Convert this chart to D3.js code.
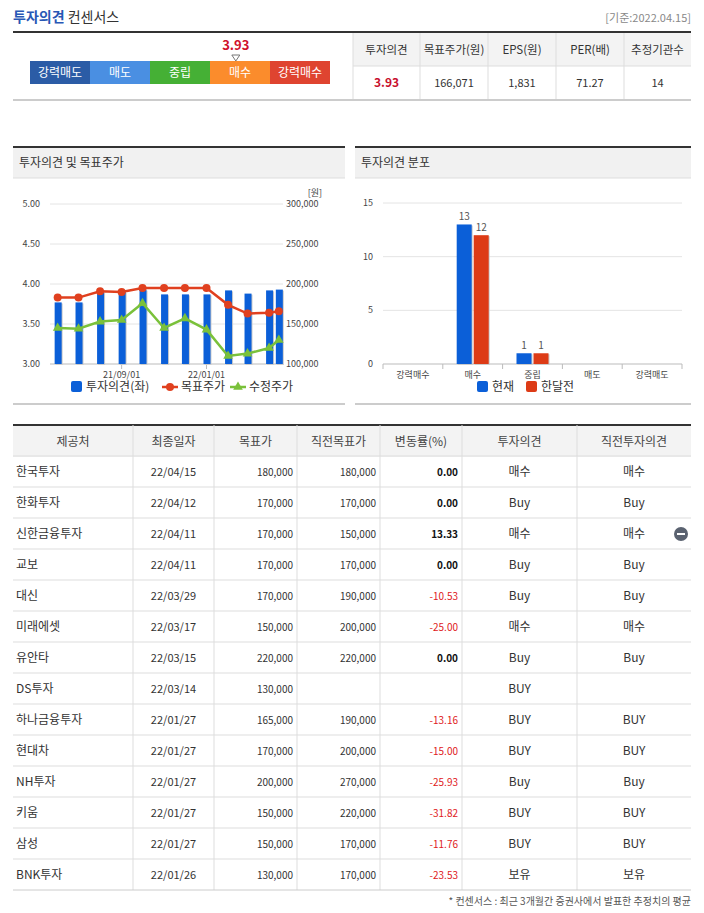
<!DOCTYPE html>
<html><head><meta charset="utf-8">
<script src="https://cdn.jsdelivr.net/npm/d3@7"></script>
<style>body{margin:0;background:#fff;font-family:"Noto Sans CJK KR","Noto Sans",sans-serif}</style>
</head><body><svg id="c" width="704" height="913"></svg>
<script>
// top consensus
var scaleNames = ["강력매도", "매도", "중립", "매수", "강력매수"];
var scaleColors = ["#2b5ca6", "#4a8fe2", "#45b035", "#fb8c2c", "#df4430"];
var consensusScore = 3.93;
var summaryHeads = ["투자의견", "목표주가(원)", "EPS(원)", "PER(배)", "추정기관수"];
var summaryVals = ["3.93", "166,071", "1,831", "71.27", "14"];

// left chart
var trendDates = ["2021-06-01","2021-07-01","2021-08-01","2021-09-01","2021-10-01","2021-11-01","2021-12-01","2022-01-01","2022-02-01","2022-03-01","2022-04-01","2022-04-15"];
var opinion = [3.77, 3.77, 3.90, 3.90, 3.93, 3.87, 3.87, 3.87, 3.92, 3.88, 3.92, 3.93];
var targetPrice = [183000, 183000, 191000, 190000, 195000, 195000, 195000, 195000, 174000, 163000, 164000, 166000];
var adjPrice = [145000, 144000, 153000, 155000, 176000, 145000, 157000, 143000, 110000, 113000, 120000, 130000];
var leftTicks = [3.0, 3.5, 4.0, 4.5, 5.0];
var rightTicks = [100000, 150000, 200000, 250000, 300000];

// right chart
var distCats = ["강력매수", "매수", "중립", "매도", "강력매도"];
var distNow = [0, 13, 1, 0, 0];
var distPrev = [0, 12, 1, 0, 0];

// table
var tableHeads = ["제공처", "최종일자", "목표가", "직전목표가", "변동률(%)", "투자의견", "직전투자의견"];
var brokers = ["한국투자","한화투자","신한금융투자","교보","대신","미래에셋","유안타","DS투자","하나금융투자","현대차","NH투자","키움","삼성","BNK투자"];
var dates = ["22/04/15","22/04/12","22/04/11","22/04/11","22/03/29","22/03/17","22/03/15","22/03/14","22/01/27","22/01/27","22/01/27","22/01/27","22/01/27","22/01/26"];
var targets = ["180,000","170,000","170,000","170,000","170,000","150,000","220,000","130,000","165,000","170,000","200,000","150,000","150,000","130,000"];
var prevTargets = ["180,000","170,000","150,000","170,000","190,000","200,000","220,000","","190,000","200,000","270,000","220,000","170,000","170,000"];
var changes = ["0.00","0.00","13.33","0.00","-10.53","-25.00","0.00","","-13.16","-15.00","-25.93","-31.82","-11.76","-23.53"];
var opinions = ["매수","Buy","매수","Buy","Buy","매수","Buy","BUY","BUY","BUY","Buy","BUY","BUY","보유"];
var prevOpinions = ["매수","Buy","매수","Buy","Buy","매수","Buy","","BUY","BUY","Buy","BUY","BUY","보유"];

var svg = d3.select("#c");
function txt(x, y, s, o) {
  o = o || {};
  return svg.append("text").attr("x", x).attr("y", y).text(s)
    .attr("font-size", o.size || 12).attr("fill", o.fill || "#333")
    .attr("text-anchor", o.anchor || "start").attr("font-weight", o.weight || "normal");
}

// header
var t = svg.append("text").attr("x", 13).attr("y", 22).attr("font-size", 14).attr("font-weight", "bold");
t.append("tspan").attr("fill", "#2857b5").text("투자의견 ");
t.append("tspan").attr("fill", "#333").attr("font-weight", "normal").text("컨센서스");
txt(691, 22, "[기준:2022.04.15]", {size: 11, fill: "#888", anchor: "end"});
svg.append("rect").attr("x", 13).attr("y", 31).attr("width", 678).attr("height", 2).attr("fill", "#333");
svg.append("rect").attr("x", 13).attr("y", 99).attr("width", 678).attr("height", 2).attr("fill", "#ccc");

var sx = d3.scaleBand().domain(scaleNames).range([30, 330]);
scaleNames.forEach(function (n, i) {
  svg.append("rect").attr("x", sx(n)).attr("y", 61).attr("width", sx.bandwidth()).attr("height", 23).attr("fill", scaleColors[i]);
  txt(sx(n) + sx.bandwidth() / 2, 77, n, {fill: "#fff", anchor: "middle"});
});
var mx = d3.scaleLinear().domain([1, 5]).range([30 + sx.bandwidth() / 2, 330 - sx.bandwidth() / 2]);
txt(mx(consensusScore), 50, consensusScore.toFixed(2), {fill: "#d0112b", weight: "bold", anchor: "middle", size: 13});
svg.append("path").attr("d", "M" + (mx(consensusScore) - 4) + ",55 l8,0 l-4,6 z").attr("fill", "#fff").attr("stroke", "#777");

var cx = [353, 420, 488, 556, 624, 691];
svg.append("rect").attr("x", 353).attr("y", 33).attr("width", 338).attr("height", 33).attr("fill", "#f3f3f3");
svg.append("line").attr("x1", 353).attr("x2", 691).attr("y1", 66).attr("y2", 66).attr("stroke", "#ddd");
summaryHeads.forEach(function (h, i) {
  svg.append("line").attr("x1", cx[i]).attr("x2", cx[i]).attr("y1", 33).attr("y2", 99).attr("stroke", "#ddd");
  txt((cx[i] + cx[i + 1]) / 2, 54, h, {anchor: "middle", size: 11.5});
  txt((cx[i] + cx[i + 1]) / 2, 87, summaryVals[i], i == 0 ? {anchor: "middle", fill: "#c8102e", weight: "bold"} : {anchor: "middle", size: 11});
});

// panels
function panel(x, w, title) {
  svg.append("rect").attr("x", x).attr("y", 147).attr("width", w).attr("height", 31).attr("fill", "#f1f1f1");
  svg.append("rect").attr("x", x).attr("y", 146).attr("width", w).attr("height", 2).attr("fill", "#333");
  svg.append("line").attr("x1", x).attr("x2", x + w).attr("y1", 178).attr("y2", 178).attr("stroke", "#ddd");
  svg.append("rect").attr("x", x).attr("y", 403).attr("width", w).attr("height", 2).attr("fill", "#ccc");
  txt(x + 6, 167, title, {size: 12});
}
panel(13, 332, "투자의견 및 목표주가");
panel(355, 336, "투자의견 분포");

// left chart
var parse = d3.timeParse("%Y-%m-%d");
var td = trendDates.map(parse);
var x = d3.scaleTime().domain([parse("2021-05-21"), parse("2022-04-21")]).range([50, 283]);
var yl = d3.scaleLinear().domain([3, 5]).range([364, 204]);
var yr = d3.scaleLinear().domain([100000, 300000]).range([364, 204]);
leftTicks.forEach(function (v) {
  svg.append("line").attr("x1", 50).attr("x2", 283).attr("y1", yl(v)).attr("y2", yl(v)).attr("stroke", v == 3 ? "#bbb" : "#e4e4e4");
  txt(40, yl(v) + 3, v.toFixed(2), {size: 9, anchor: "end", fill: "#444"});
});
rightTicks.forEach(function (v) { txt(286, yr(v) + 3, d3.format(",")(v), {size: 9, fill: "#444"}); });
txt(322, 196, "[원]", {size: 9, anchor: "end", fill: "#444"});
[parse("2021-09-01"), parse("2022-01-01")].forEach(function (d) {
  svg.append("line").attr("x1", x(d)).attr("x2", x(d)).attr("y1", 364).attr("y2", 369).attr("stroke", "#bbb");
  txt(x(d), 378, d3.timeFormat("%y/%m/%d")(d), {size: 9, anchor: "middle", fill: "#444"});
});
td.forEach(function (d, i) {
  svg.append("rect").attr("x", x(d) - 2).attr("y", yl(opinion[i]) + 1).attr("width", 7).attr("height", 364 - yl(opinion[i])).attr("fill", "#ccc");
  svg.append("rect").attr("x", x(d) - 3).attr("y", yl(opinion[i])).attr("width", 7).attr("height", 364 - yl(opinion[i])).attr("fill", "#0b5fd8");
});
var lr = d3.line().x(function (d, i) { return x(td[i]); }).y(function (d) { return yr(d); });
svg.append("path").attr("d", lr(adjPrice)).attr("fill", "none").attr("stroke", "#7ac13a").attr("stroke-width", 2.5);
var star = d3.symbol().type(d3.symbolTriangle).size(40);
adjPrice.forEach(function (v, i) {
  svg.append("path").attr("d", star()).attr("transform", "translate(" + x(td[i]) + "," + yr(v) + ")").attr("fill", "#7ac13a");
});
svg.append("path").attr("d", lr(targetPrice)).attr("fill", "none").attr("stroke", "#e0401f").attr("stroke-width", 2.5);
targetPrice.forEach(function (v, i) {
  svg.append("circle").attr("cx", x(td[i])).attr("cy", yr(v)).attr("r", 4).attr("fill", "#e0401f");
});
// left legend
svg.append("rect").attr("x", 71).attr("y", 381).attr("width", 11).attr("height", 11).attr("rx", 2).attr("fill", "#0b5fd8");
txt(86, 391, "투자의견(좌)", {size: 12});
svg.append("line").attr("x1", 162).attr("x2", 178).attr("y1", 387).attr("y2", 387).attr("stroke", "#e0401f").attr("stroke-width", 2.5);
svg.append("circle").attr("cx", 170).attr("cy", 387).attr("r", 4).attr("fill", "#e0401f");
txt(181, 391, "목표주가", {size: 12});
svg.append("line").attr("x1", 230).attr("x2", 246).attr("y1", 387).attr("y2", 387).attr("stroke", "#7ac13a").attr("stroke-width", 2.5);
svg.append("path").attr("d", star()).attr("transform", "translate(238,387)").attr("fill", "#7ac13a");
txt(249, 391, "수정주가", {size: 12});

// right chart
var bx = d3.scaleBand().domain(distCats).range([383, 682]);
var by = d3.scaleLinear().domain([0, 15]).range([364, 203]);
[0, 5, 10, 15].forEach(function (v) {
  svg.append("line").attr("x1", 383).attr("x2", 682).attr("y1", by(v)).attr("y2", by(v)).attr("stroke", v == 0 ? "#bbb" : "#e4e4e4");
  txt(373, by(v) + 3, v, {size: 9, anchor: "end", fill: "#444"});
});
distCats.forEach(function (c, i) {
  svg.append("line").attr("x1", bx(c)).attr("x2", bx(c)).attr("y1", 364).attr("y2", 369).attr("stroke", "#bbb");
  txt(bx(c) + bx.bandwidth() / 2, 378, c, {size: 9, anchor: "middle", fill: "#444"});
  [[distNow[i], "#0b5fd8", -16], [distPrev[i], "#dd3b16", 1]].forEach(function (s) {
    if (!s[0]) return;
    var xx = bx(c) + bx.bandwidth() / 2 + s[2];
    svg.append("rect").attr("x", xx + 1).attr("y", by(s[0]) + 1).attr("width", 15).attr("height", 364 - by(s[0])).attr("fill", "#ccc");
    svg.append("rect").attr("x", xx).attr("y", by(s[0])).attr("width", 15).attr("height", 364 - by(s[0])).attr("fill", s[1]);
    txt(xx + 7.5, by(s[0]) - 4, s[0], {size: 10, anchor: "middle", fill: "#555"});
  });
});
svg.append("line").attr("x1", 682).attr("x2", 682).attr("y1", 364).attr("y2", 369).attr("stroke", "#bbb");
svg.append("rect").attr("x", 477).attr("y", 381).attr("width", 11).attr("height", 11).attr("rx", 2).attr("fill", "#0b5fd8");
txt(492, 391, "현재", {size: 12});
svg.append("rect").attr("x", 526).attr("y", 381).attr("width", 11).attr("height", 11).attr("rx", 2).attr("fill", "#dd3b16");
txt(541, 391, "한달전", {size: 12});

// table
var tx = [13, 133, 214, 297, 380, 462, 577, 691];
var rowH = 31, tableTop = 425;
svg.append("rect").attr("x", 13).attr("y", tableTop + 1).attr("width", 678).attr("height", 31).attr("fill", "#f3f3f3");
svg.append("rect").attr("x", 13).attr("y", tableTop - 1).attr("width", 678).attr("height", 2).attr("fill", "#333");
tableHeads.forEach(function (h, i) { txt((tx[i] + tx[i + 1]) / 2, tableTop + 21, h, {anchor: "middle", size: 12, fill: "#444"}); });
for (var i = 1; i < 7; i++) svg.append("line").attr("x1", tx[i]).attr("x2", tx[i]).attr("y1", tableTop).attr("y2", tableTop + rowH * 15).attr("stroke", "#ddd");
brokers.forEach(function (b, r) {
  var y = tableTop + rowH * (r + 1);
  svg.append("line").attr("x1", 13).attr("x2", 691).attr("y1", y).attr("y2", y).attr("stroke", "#ddd");
  var by2 = y + 20;
  txt(16, by2, b, {size: 12});
  txt((tx[1] + tx[2]) / 2, by2, dates[r], {size: 11, anchor: "middle"});
  txt(tx[3] - 4, by2, targets[r], {size: 10, anchor: "end"});
  txt(tx[4] - 4, by2, prevTargets[r], {size: 10, anchor: "end"});
  var ch = changes[r];
  txt(tx[5] - 4, by2, ch, {size: 10, anchor: "end", fill: ch.charAt(0) == "-" ? "#e0201b" : "#111", weight: ch.charAt(0) == "-" ? "normal" : "bold"});
  txt((tx[5] + tx[6]) / 2, by2, opinions[r], {size: 12, anchor: "middle"});
  txt((tx[6] + tx[7]) / 2, by2, prevOpinions[r], {size: 12, anchor: "middle"});
});
svg.append("line").attr("x1", 13).attr("x2", 691).attr("y1", tableTop + rowH * 15).attr("y2", tableTop + rowH * 15).attr("stroke", "#ccc");
svg.append("circle").attr("cx", 681).attr("cy", tableTop + rowH * 3 + 16).attr("r", 7).attr("fill", "#5a6270");
svg.append("rect").attr("x", 677).attr("y", tableTop + rowH * 3 + 15).attr("width", 8).attr("height", 2).attr("fill", "#fff");
txt(691, 905, "* 컨센서스 : 최근 3개월간 증권사에서 발표한 추정치의 평균", {size: 10, anchor: "end", fill: "#555"});
</script></body></html>
